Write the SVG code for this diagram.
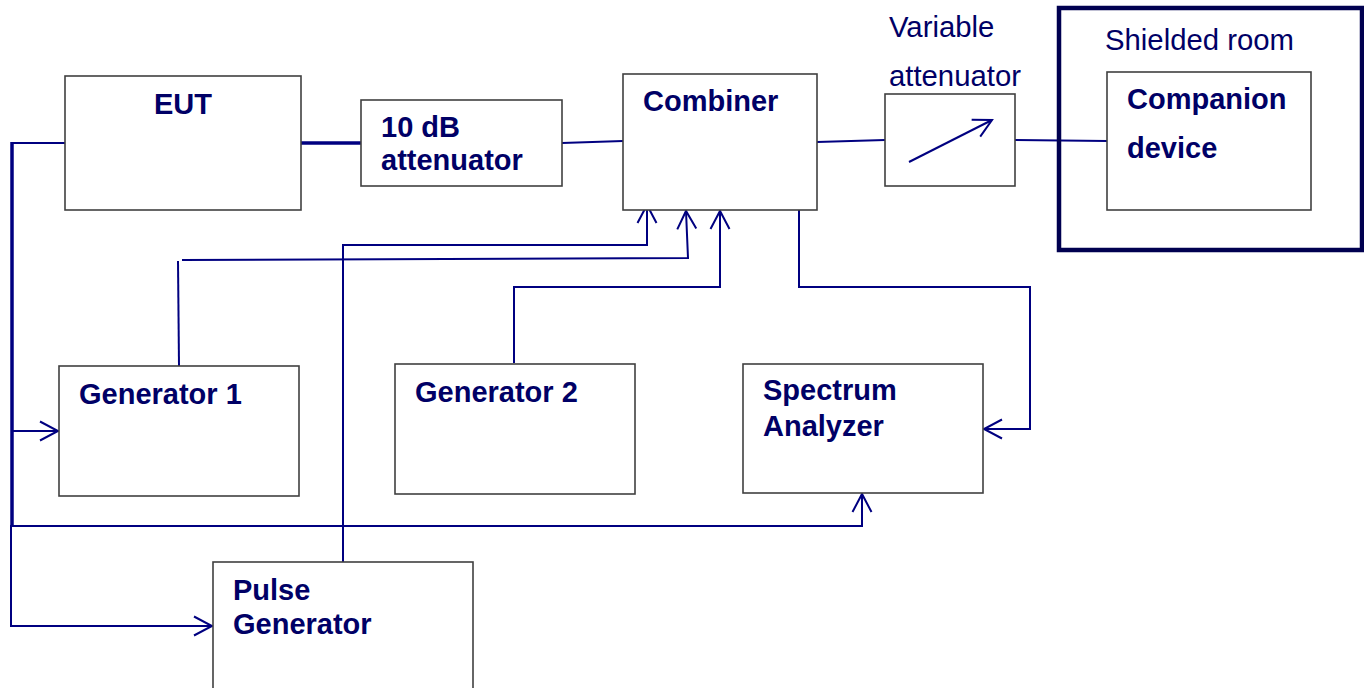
<svg xmlns="http://www.w3.org/2000/svg" width="1364" height="688" viewBox="0 0 1364 688">
<style>
.box{fill:#ffffff;stroke:#404040;stroke-width:1.6}
.lbl{font-family:"Liberation Sans",Arial,sans-serif;font-size:29px;font-weight:bold;fill:#000066}
.reg{font-family:"Liberation Sans",Arial,sans-serif;font-size:29.3px;fill:#000066}
.ln{fill:none;stroke:#000080;stroke-width:2}
.thick{fill:none;stroke:#000080;stroke-width:3.5}
</style>
<defs>
<marker id="arr" markerUnits="userSpaceOnUse" markerWidth="24" markerHeight="24" viewBox="-20 -12 24 24" refX="0" refY="0" orient="auto">
<path d="M -18 -9.5 L 0 0 L -18 9.5" fill="none" stroke="#000080" stroke-width="2"/>
</marker>
</defs>
<rect width="1364" height="688" fill="#ffffff"/>
<g id="connectors">
<path class="thick" d="M 301 143 L 361 143"/>
<path class="ln" d="M 562 143 L 623 141"/>
<path class="ln" d="M 817 142 L 885 140"/>
<path class="ln" d="M 1015 140 L 1107 141"/>
<path class="ln" d="M 65 143 L 12 143"/>
<path class="thick" d="M 12 142 L 12 526"/>
<path class="ln" d="M 11 525 L 11 626 L 212 626" marker-end="url(#arr)"/>
<path class="ln" d="M 12 431 L 58 431" marker-end="url(#arr)"/>
<path class="ln" d="M 12 526 L 862 526 L 862 494" marker-end="url(#arr)"/>
<path class="ln" d="M 179 366 L 178 261"/>
<path class="ln" d="M 182 260 L 688 258 L 686 211" marker-end="url(#arr)"/>
<path class="ln" d="M 343 562 L 343 245 L 647 245 L 647 205" marker-end="url(#arr)"/>
<path class="ln" d="M 514 363 L 514 287 L 720 287 L 720 211" marker-end="url(#arr)"/>
<path class="ln" d="M 799 210 L 799 287 L 1030 287 L 1030 429 L 984 429" marker-end="url(#arr)"/>
</g>
<g id="shielded-room">
<rect x="1059" y="8" width="303" height="242" fill="none" stroke="#000050" stroke-width="4.5"/>
<text class="reg" x="1105" y="50">Shielded room</text>
</g>
<g id="eut">
<rect class="box" x="65" y="76" width="236" height="134"/>
<text class="lbl" x="183" y="114" text-anchor="middle">EUT</text>
</g>
<g id="attenuator-10db">
<rect class="box" x="361" y="100" width="201" height="86"/>
<text class="lbl" x="381" y="137">10 dB</text>
<text class="lbl" x="381" y="170">attenuator</text>
</g>
<g id="combiner">
<rect class="box" x="623" y="74" width="194" height="136"/>
<text class="lbl" x="643" y="111">Combiner</text>
</g>
<g id="variable-attenuator">
<text class="reg" x="889" y="37">Variable</text>
<text class="reg" x="889" y="86">attenuator</text>
<rect class="box" x="885" y="94" width="130" height="92"/>
<path class="ln" d="M 909 162 L 992 120" marker-end="url(#arr)"/>
</g>
<g id="companion-device">
<rect class="box" x="1107" y="72" width="204" height="138"/>
<text class="lbl" x="1127" y="109">Companion</text>
<text class="lbl" x="1127" y="158">device</text>
</g>
<g id="generator-1">
<rect class="box" x="59" y="366" width="240" height="130"/>
<text class="lbl" x="79" y="404">Generator 1</text>
</g>
<g id="generator-2">
<rect class="box" x="395" y="364" width="240" height="130"/>
<text class="lbl" x="415" y="402">Generator 2</text>
</g>
<g id="spectrum-analyzer">
<rect class="box" x="743" y="364" width="240" height="129"/>
<text class="lbl" x="763" y="400">Spectrum</text>
<text class="lbl" x="763" y="436">Analyzer</text>
</g>
<g id="pulse-generator">
<rect class="box" x="213" y="562" width="260" height="130"/>
<text class="lbl" x="233" y="600">Pulse</text>
<text class="lbl" x="233" y="634">Generator</text>
</g>
</svg>
